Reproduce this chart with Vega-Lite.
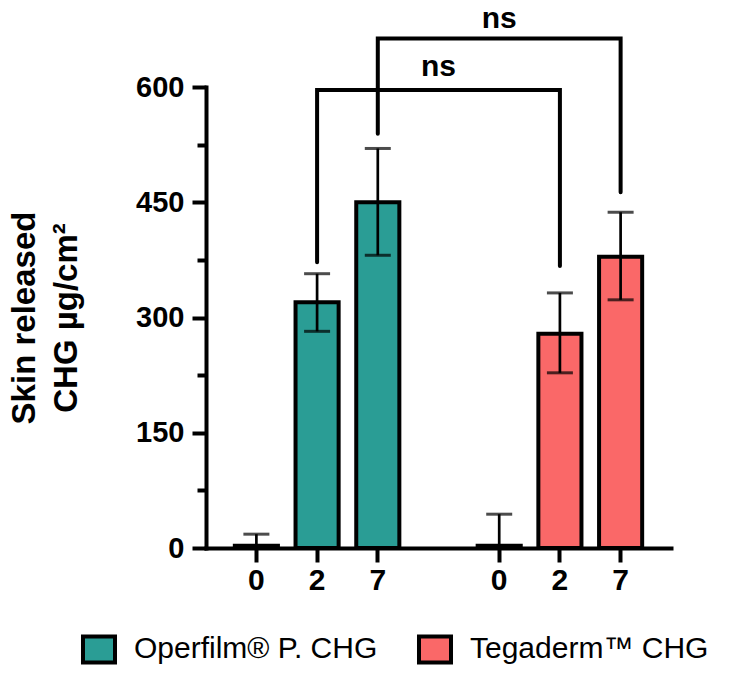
{
  "$schema": "https://vega.github.io/schema/vega-lite/v6.json",
  "width": 465,
  "height": 461,
  "autosize": "none",
  "padding": {"left": 206, "top": 87, "right": 62, "bottom": 132},
  "config": {
    "view": {"stroke": null},
    "font": "Liberation Sans"
  },
  "datasets": {
    "bars": [
      {"key": "Operfilm-0", "dressing": "Operfilm® P. CHG", "mean": 3, "lo": 0, "hi": 18},
      {"key": "Operfilm-2", "dressing": "Operfilm® P. CHG", "mean": 320, "lo": 282, "hi": 357},
      {"key": "Operfilm-7", "dressing": "Operfilm® P. CHG", "mean": 450, "lo": 381, "hi": 520},
      {"key": "Tegaderm-0", "dressing": "Tegaderm™ CHG", "mean": 3, "lo": 0, "hi": 44},
      {"key": "Tegaderm-2", "dressing": "Tegaderm™ CHG", "mean": 279, "lo": 228, "hi": 332},
      {"key": "Tegaderm-7", "dressing": "Tegaderm™ CHG", "mean": 379, "lo": 323, "hi": 437}
    ],
    "brackets": [
      {"bracket": "day2", "step": 1, "key": "Operfilm-2", "y": 372},
      {"bracket": "day2", "step": 2, "key": "Operfilm-2", "y": 596},
      {"bracket": "day2", "step": 3, "key": "Tegaderm-2", "y": 596},
      {"bracket": "day2", "step": 4, "key": "Tegaderm-2", "y": 367},
      {"bracket": "day7", "step": 1, "key": "Operfilm-7", "y": 539},
      {"bracket": "day7", "step": 2, "key": "Operfilm-7", "y": 663},
      {"bracket": "day7", "step": 3, "key": "Tegaderm-7", "y": 663},
      {"bracket": "day7", "step": 4, "key": "Tegaderm-7", "y": 463}
    ],
    "labels": [
      {"key": "gap", "y": 614, "text": "ns"},
      {"key": "Tegaderm-0", "y": 677, "text": "ns"}
    ]
  },
  "encoding": {
    "x": {
      "field": "key",
      "type": "nominal",
      "scale": {
        "domain": ["Operfilm-0", "Operfilm-2", "Operfilm-7", "gap", "Tegaderm-0", "Tegaderm-2", "Tegaderm-7"],
        "paddingInner": 0.29,
        "paddingOuter": 0.475
      },
      "axis": {
        "title": null,
        "values": ["Operfilm-0", "Operfilm-2", "Operfilm-7", "Tegaderm-0", "Tegaderm-2", "Tegaderm-7"],
        "labelExpr": "split(datum.value, '-')[1]",
        "labelAngle": 0,
        "labelFontSize": 30,
        "labelFontWeight": "bold",
        "labelColor": "black",
        "labelPadding": 3,
        "tickSize": 14,
        "tickWidth": 4,
        "tickColor": "black",
        "domainWidth": 4,
        "domainColor": "black",
        "domainCap": "square"
      }
    }
  },
  "layer": [
    {
      "data": {"name": "bars"},
      "mark": {"type": "bar", "stroke": "black", "strokeWidth": 4},
      "encoding": {
        "y": {
          "field": "mean",
          "type": "quantitative",
          "scale": {"domain": [0, 600], "nice": false},
          "axis": {
            "title": ["Skin released", "CHG µg/cm²"],
            "titleFontSize": 33,
            "titleFontWeight": "bold",
            "titleColor": "black",
            "titleLineHeight": 42,
            "titlePadding": 52,
            "values": [0, 75, 150, 225, 300, 375, 450, 525, 600],
            "labelExpr": "datum.value % 150 === 0 ? datum.label : ''",
            "labelFontSize": 29,
            "labelFontWeight": "bold",
            "labelColor": "black",
            "labelPadding": 8,
            "tickSize": {"condition": {"test": "datum.value % 150 === 0", "value": 14}, "value": 9},
            "tickWidth": 4,
            "tickColor": "black",
            "domainWidth": 4,
            "domainColor": "black",
            "domainCap": "square",
            "grid": false
          }
        },
        "color": {
          "field": "dressing",
          "type": "nominal",
          "scale": {
            "domain": ["Operfilm® P. CHG", "Tegaderm™ CHG"],
            "range": ["#2a9d95", "#fa6868"]
          },
          "legend": {
            "title": null,
            "orient": "none",
            "direction": "horizontal",
            "columns": 2,
            "legendX": -124,
            "legendY": 545,
            "symbolType": "M-1.067,-0.867H1.067V0.867H-1.067Z",
            "symbolSize": 900,
            "symbolStrokeColor": "black",
            "symbolStrokeWidth": 4,
            "symbolOpacity": 1,
            "labelFontSize": 30,
            "labelColor": "black",
            "labelOffset": 18,
            "labelLimit": 400,
            "columnPadding": 32
          }
        }
      }
    },
    {
      "data": {"name": "bars"},
      "mark": {"type": "rule", "color": "black", "strokeWidth": 2.7},
      "encoding": {
        "y": {"field": "lo", "type": "quantitative"},
        "y2": {"field": "hi"}
      }
    },
    {
      "data": {"name": "bars"},
      "mark": {"type": "tick", "color": "black", "size": 26, "thickness": 3},
      "encoding": {
        "y": {"field": "hi", "type": "quantitative"}
      }
    },
    {
      "data": {"name": "bars"},
      "transform": [{"filter": "datum.lo > 0"}],
      "mark": {"type": "tick", "color": "black", "size": 26, "thickness": 3},
      "encoding": {
        "y": {"field": "lo", "type": "quantitative"}
      }
    },
    {
      "data": {"name": "brackets"},
      "mark": {"type": "line", "color": "black", "strokeWidth": 4, "strokeCap": "round", "strokeJoin": "miter"},
      "encoding": {
        "y": {"field": "y", "type": "quantitative"},
        "order": {"field": "step"},
        "detail": {"field": "bracket"}
      }
    },
    {
      "data": {"name": "labels"},
      "mark": {"type": "text", "fontSize": 30, "fontWeight": "bold", "color": "black", "baseline": "alphabetic", "align": "center"},
      "encoding": {
        "y": {"field": "y", "type": "quantitative"},
        "text": {"field": "text"}
      }
    }
  ]
}
